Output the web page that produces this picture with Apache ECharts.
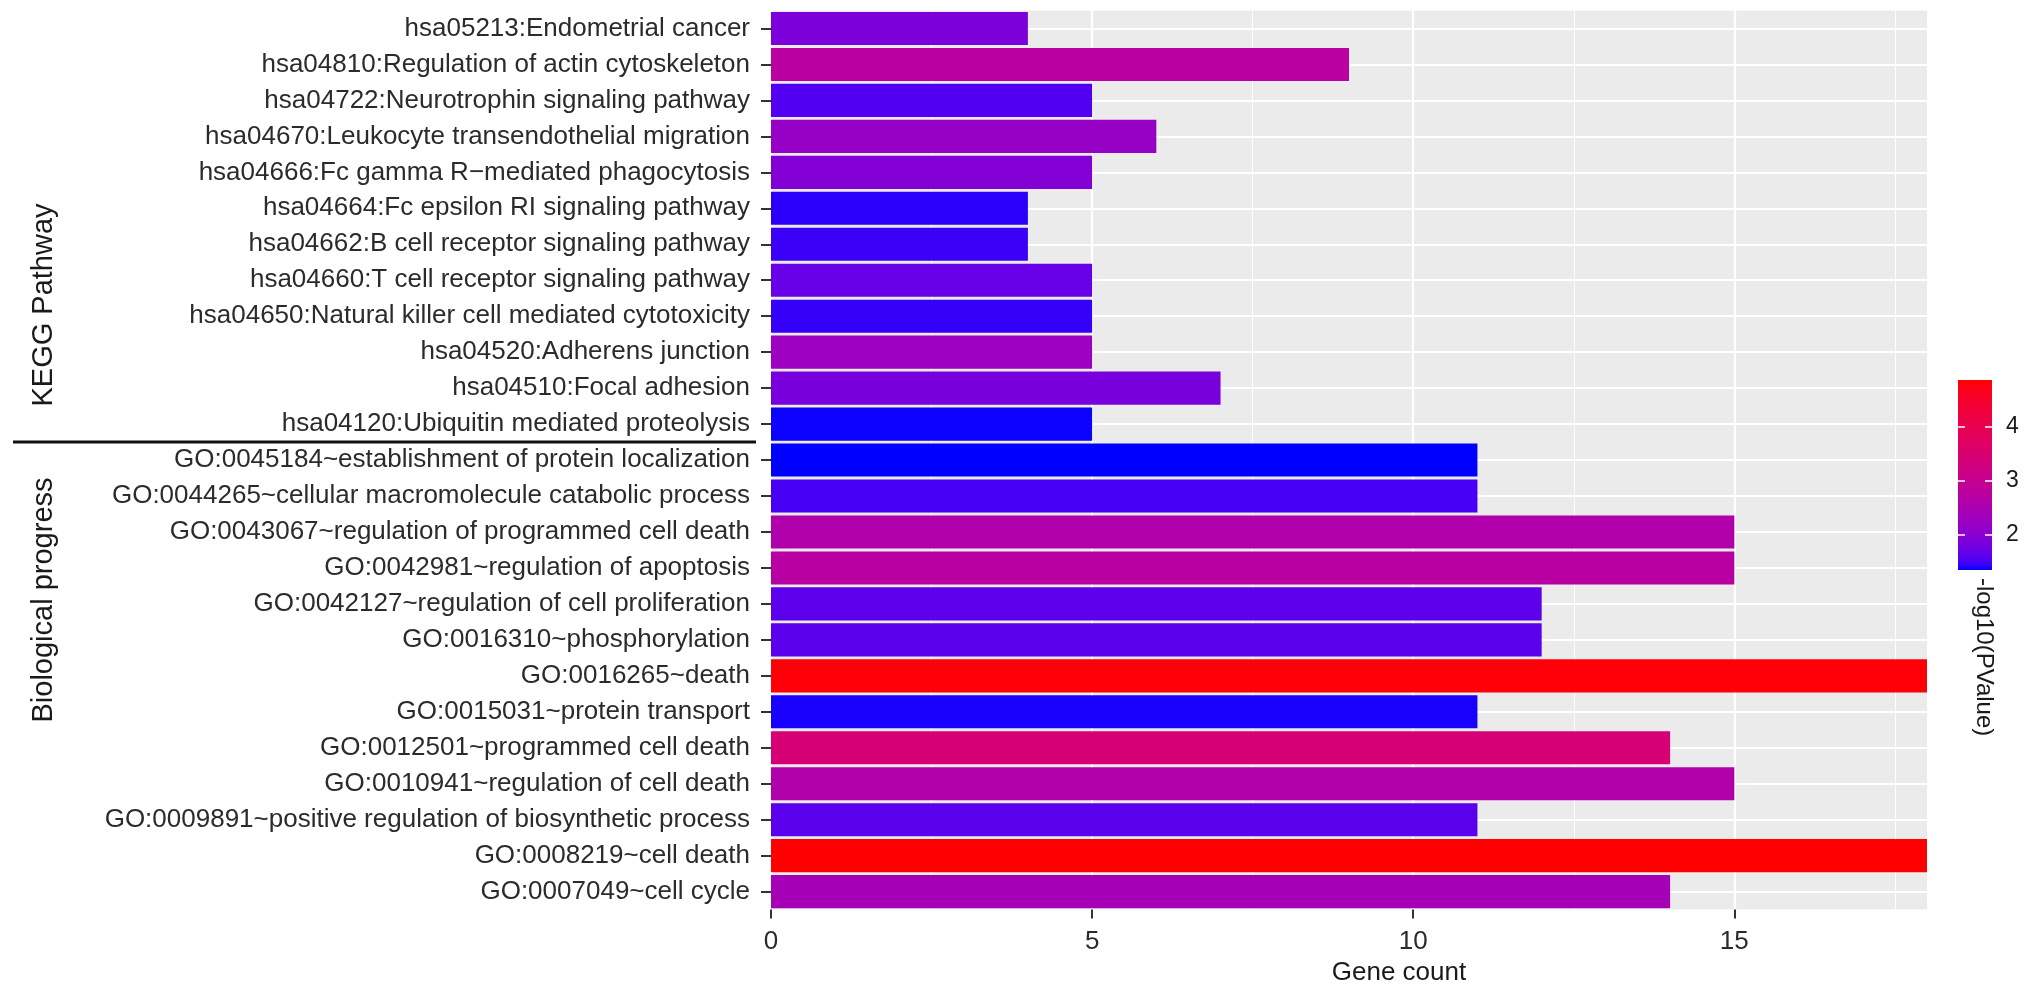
<!DOCTYPE html>
<html>
<head>
<meta charset="utf-8">
<script src="https://cdn.jsdelivr.net/npm/echarts@6/dist/echarts.min.js"></script>
<style>
html,body{margin:0;padding:0;background:#ffffff;}
#c{width:2032px;height:998px;}
</style>
</head>
<body>
<div id="c"></div>
<script>
// ---------------- data ----------------
const categories = [
  'hsa05213:Endometrial cancer',
  'hsa04810:Regulation of actin cytoskeleton',
  'hsa04722:Neurotrophin signaling pathway',
  'hsa04670:Leukocyte transendothelial migration',
  'hsa04666:Fc gamma R\u2212mediated phagocytosis',
  'hsa04664:Fc epsilon RI signaling pathway',
  'hsa04662:B cell receptor signaling pathway',
  'hsa04660:T cell receptor signaling pathway',
  'hsa04650:Natural killer cell mediated cytotoxicity',
  'hsa04520:Adherens junction',
  'hsa04510:Focal adhesion',
  'hsa04120:Ubiquitin mediated proteolysis',
  'GO:0045184~establishment of protein localization',
  'GO:0044265~cellular macromolecule catabolic process',
  'GO:0043067~regulation of programmed cell death',
  'GO:0042981~regulation of apoptosis',
  'GO:0042127~regulation of cell proliferation',
  'GO:0016310~phosphorylation',
  'GO:0016265~death',
  'GO:0015031~protein transport',
  'GO:0012501~programmed cell death',
  'GO:0010941~regulation of cell death',
  'GO:0009891~positive regulation of biosynthetic process',
  'GO:0008219~cell death',
  'GO:0007049~cell cycle'
];
const geneCounts = [4, 9, 5, 6, 5, 4, 4, 5, 5, 5, 7, 5, 11, 11, 15, 15, 12, 12, 18, 11, 14, 15, 11, 18, 14];
const negLog10P  = [1.88, 2.76, 1.56, 2.19, 1.95, 1.42, 1.46, 1.70, 1.44, 2.27, 1.84, 1.37,
                    1.35, 1.51, 2.58, 2.72, 1.63, 1.61, 4.83, 1.39, 3.43, 2.58, 1.61, 4.87, 2.41];
const xTicks = [0, 5, 10, 15];
const xMinorTickStep = 2.5;
const colorbarTicks = [2, 3, 4];
const groupLabels = ['KEGG Pathway', 'Biological progress'];
const separatorAfterIndex = 11;
const lowColor = '#0000FF', highColor = '#FF0000';

// ------------- CIELAB colour ramp (like ggplot scale_fill_gradient) -------------
function hexToRgb(h){return [parseInt(h.substr(1,2),16),parseInt(h.substr(3,2),16),parseInt(h.substr(5,2),16)];}
function toLin(c){c/=255;return c<=0.04045?c/12.92:Math.pow((c+0.055)/1.055,2.4);}
function fromLin(c){c=Math.max(0,Math.min(1,c));c=c<=0.0031308?12.92*c:1.055*Math.pow(c,1/2.4)-0.055;return Math.round(Math.max(0,Math.min(1,c))*255);}
const Xn=0.95047,Yn=1.0,Zn=1.08883;
function rgbToLab(rgb){
  const r=toLin(rgb[0]),g=toLin(rgb[1]),b=toLin(rgb[2]);
  const X=0.4124564*r+0.3575761*g+0.1804375*b;
  const Y=0.2126729*r+0.7151522*g+0.0721750*b;
  const Z=0.0193339*r+0.1191920*g+0.9503041*b;
  const f=t=>t>216/24389?Math.cbrt(t):(24389/27*t+16)/116;
  const fx=f(X/Xn),fy=f(Y/Yn),fz=f(Z/Zn);
  return [116*fy-16,500*(fx-fy),200*(fy-fz)];
}
function labToHex(lab){
  const L=lab[0],a=lab[1],bb=lab[2];
  const fy=(L+16)/116,fx=fy+a/500,fz=fy-bb/200;
  const fi=t=>(t*t*t>216/24389)?t*t*t:(116*t-16)/(24389/27);
  const X=Xn*fi(fx),Y=Yn*fi(fy),Z=Zn*fi(fz);
  const r=3.2404542*X-1.5371385*Y-0.4985314*Z;
  const g=-0.9692660*X+1.8760108*Y+0.0415560*Z;
  const b=0.0556434*X-0.2040259*Y+1.0572252*Z;
  return '#'+[r,g,b].map(fromLin).map(v=>v.toString(16).padStart(2,'0')).join('');
}
const labLo=rgbToLab(hexToRgb(lowColor)), labHi=rgbToLab(hexToRgb(highColor));
const NSTOP=41;
const palette=[];
for(let i=0;i<NSTOP;i++){
  const t=i/(NSTOP-1);
  palette.push(labToHex([0,1,2].map(k=>labLo[k]+(labHi[k]-labLo[k])*t)));
}

// ---------------- chart ----------------
const FONT = "'Liberation Sans', Arial, Helvetica, sans-serif";
const pMin = Math.min(...negLog10P), pMax = Math.max(...negLog10P);
const chart = echarts.init(document.getElementById('c'), null, {renderer:'canvas'});

const gradStops = palette.slice().reverse().map((c,i)=>({offset:i/(palette.length-1), color:c}));

const option = {
  backgroundColor:'#ffffff',
  animation:false,
  textStyle:{fontFamily:FONT},
  grid:[
    {left:771, right:105, top:10.5, bottom:88.4, show:true, backgroundColor:'#EBEBEB', borderWidth:0},
    {left:1958, width:34, top:380, height:190, show:false}
  ],
  visualMap:{
    type:'continuous', show:false, min:pMin, max:pMax, dimension:2, seriesIndex:0,
    inRange:{color:palette}
  },
  xAxis:[
    {
      gridIndex:0, type:'value', min:0, max:18, interval:5,
      axisLine:{show:false},
      axisTick:{show:true, length:9, customValues:xTicks, lineStyle:{color:'#333333', width:2}},
      axisLabel:{customValues:xTicks, fontSize:26, color:'#2b2b2b', margin:19, fontFamily:FONT},
      splitLine:{show:true, lineStyle:{color:'#ffffff', width:2.2}},
      name:'Gene count', nameLocation:'middle', nameGap:45,
      nameTextStyle:{fontSize:26, color:'#1a1a1a', fontFamily:FONT, padding:[0,0,0,100]}
    },
    {
      gridIndex:0, type:'value', min:0, max:18, interval:xMinorTickStep, position:'top',
      axisLine:{show:false}, axisTick:{show:false}, axisLabel:{show:false},
      splitLine:{show:true, lineStyle:{color:'#ffffff', width:1}}
    },
    {gridIndex:1, type:'category', data:['colorbar'], show:false}
  ],
  yAxis:[
    {
      gridIndex:0, type:'category', data:categories, inverse:true,
      axisLine:{show:false},
      axisTick:{show:true, alignWithLabel:true, length:10, lineStyle:{color:'#333333', width:2}},
      axisLabel:{interval:0, fontSize:26, color:'#2b2b2b', margin:21, fontFamily:FONT},
      splitLine:{show:true, alignWithLabel:true, lineStyle:{color:'#ffffff', width:2.2}}
    },
    {
      gridIndex:1, type:'value', min:pMin, max:pMax, position:'right', z:10,
      axisLine:{show:false},
      axisTick:{show:true, inside:true, length:7, customValues:colorbarTicks, lineStyle:{color:'#ffffff', width:1.5}},
      axisLabel:{customValues:colorbarTicks, fontSize:23, color:'#1a1a1a', margin:14, fontFamily:FONT},
      splitLine:{show:false}
    },
    {
      gridIndex:1, type:'value', min:pMin, max:pMax, position:'left', z:10,
      axisLine:{show:false},
      axisTick:{show:true, inside:true, length:7, customValues:colorbarTicks, lineStyle:{color:'#ffffff', width:1.5}},
      axisLabel:{show:false},
      splitLine:{show:false}
    }
  ],
  series:[
    {
      type:'bar', xAxisIndex:0, yAxisIndex:0,
      data:categories.map((c,i)=>[geneCounts[i], c, negLog10P[i]]),
      encode:{x:0, y:1},
      barCategoryGap:'8%'
    },
    {
      type:'bar', xAxisIndex:2, yAxisIndex:1, stack:'cb', barWidth:'100%', silent:true,
      data:[pMin], itemStyle:{color:'rgba(0,0,0,0)'}
    },
    {
      type:'bar', xAxisIndex:2, yAxisIndex:1, stack:'cb', barWidth:'100%', silent:true,
      data:[pMax - pMin],
      itemStyle:{color:new echarts.graphic.LinearGradient(0,0,0,1,gradStops)}
    }
  ]
};
chart.setOption(option);

// annotations: group separator + group labels + legend title
const ySepA = chart.convertToPixel({yAxisIndex:0}, categories[separatorAfterIndex]);
const ySepB = chart.convertToPixel({yAxisIndex:0}, categories[separatorAfterIndex+1]);
const sepY = (ySepA + ySepB) / 2;
const gridLeft = 771;
const cbTop = 380, cbBottom = 570, cbCenterX = 1958 + 17;

chart.setOption({
  graphic:[
    {type:'line', shape:{x1:13, y1:sepY, x2:gridLeft-15, y2:sepY}, style:{stroke:'#111111', lineWidth:3}, z:100},
    {type:'text', x:44, y:305, rotation:Math.PI/2,
     style:{text:groupLabels[0], font:"29px "+FONT, fill:'#1a1a1a', textAlign:'center', textVerticalAlign:'middle'}},
    {type:'text', x:44, y:600, rotation:Math.PI/2,
     style:{text:groupLabels[1], font:"29px "+FONT, fill:'#1a1a1a', textAlign:'center', textVerticalAlign:'middle'}},
    {type:'text', x:cbCenterX+9, y:cbBottom+8, rotation:-Math.PI/2,
     style:{text:'-log10(PValue)', font:"24px "+FONT, fill:'#1a1a1a', textAlign:'left', textVerticalAlign:'middle'}}
  ]
});
</script>
</body>
</html>
